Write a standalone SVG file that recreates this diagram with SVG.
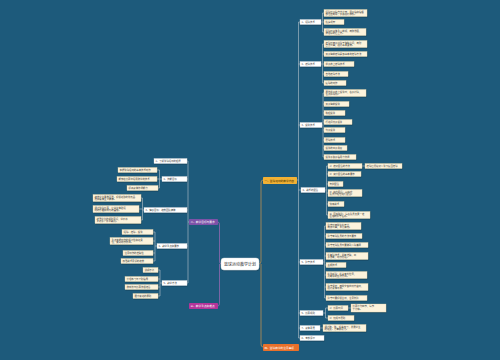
<svg xmlns="http://www.w3.org/2000/svg" width="500" height="360" viewBox="0 0 500 360">
<defs>
<filter id="sh" x="-10%" y="-30%" width="130%" height="180%"><feDropShadow dx="0.4" dy="0.5" stdDeviation="0.3" flood-color="#000" flood-opacity="0.4"/></filter>
</defs>
<style>
text{font-family:"Noto Sans CJK SC","Noto Sans",sans-serif;font-size:2.4px;fill:#3a3a3a}
.lf rect{fill:#fcf3dc;stroke:#e0cfa4;stroke-width:0.3;filter:url(#sh)}
.b2 rect{fill:#ffffff;stroke:#cfd6dc;stroke-width:0.3;filter:url(#sh)}
.mn text{fill:#ffffff;font-size:2.7px}
.mo text{fill:#4a3200;font-size:2.7px}
.ln{fill:none;stroke:#b9c5cd;stroke-width:0.6}
</style>
<rect width="500" height="360" fill="#1d5a7b"/>
<g id="connectors">
<path d="M259,264 Q261,264 261,261 V183 Q261,180 263,180 M261,264 V344 Q261,347 263,347" fill="none" stroke="#d49a4a" stroke-width="0.7"/>
<path d="M221,264 Q219.5,264 219.5,261 V225 Q219.5,222 218,222 M219.5,264 V303 Q219.5,306 218,306" fill="none" stroke="#a46ab8" stroke-width="0.7"/>
<path class="ln" d="M297,180 H298.5 M298.5,22 V338 M298.5,22 H300 M298.5,64 H300 M298.5,125 H300 M298.5,190 H301 M298.5,262 H300 M298.5,313 H300 M298.5,328 H300 M298.5,338 H300"/>
<path class="ln" d="M321,22 H322.5 M322.5,13 V32 M322.5,13 H324 M322.5,22 H324 M322.5,32 H324"/>
<path class="ln" d="M321,64 H322.5 M322.5,44 V83 M322.5,44 H324 M322.5,54 H324 M322.5,64 H324 M322.5,74 H324 M322.5,83 H324"/>
<path class="ln" d="M322,125 H323 M323,93 V157 M323,93 H324 M323,104 H324 M323,113 H324 M323,122 H324 M323,130 H324 M323,140 H324 M323,148 H324 M323,157 H324"/>
<path class="ln" d="M325,190 H326.5 M326.5,166 V215 M326.5,166 H328 M326.5,174 H328 M326.5,184 H328 M326.5,193 H328 M326.5,204 H328 M326.5,215 H328 M362,166 H365"/>
<path class="ln" d="M323,262 H324.5 M324.5,226 V298 M324.5,226 H326 M324.5,236 H326 M324.5,245 H326 M324.5,256 H326 M324.5,265 H326 M324.5,275 H326 M324.5,287 H326 M324.5,298 H326"/>
<path class="ln" d="M323,313 H325.5 M325.5,308 V318 M325.5,308 H328 M325.5,318 H328 M348,308 H351 M320,328 H323"/>
<path class="ln" d="M189,222 H188 M188,161 V283 M188,161 H187 M188,179 H187 M188,210 H187 M188,246 H187 M188,283 H187"/>
<path class="ln" d="M162,179 H159.5 M159.5,170 V188 M159.5,170 H157 M159.5,179 H157 M159.5,188 H158"/>
<path class="ln" d="M144,210 H142.5 M142.5,198 V220 M142.5,198 H141 M142.5,209 H139 M142.5,220 H141"/>
<path class="ln" d="M157,246 H155 M155,232 V261 M155,232 H153 M155,241 H153 M155,253 H153 M155,261 H153"/>
<path class="ln" d="M162,283 H160 M160,270 V296 M160,270 H158 M160,279 H158 M160,287 H158 M160,296 H158"/>
</g>
<g id="center"><rect x="221" y="258" width="38" height="12" rx="3" fill="#ffffff" stroke="#d0d6da" stroke-width="0.4" filter="url(#sh)"/><text x="240" y="265.5" text-anchor="middle" style="font-size:4px;fill:#333">篮球运动教学计划</text></g>
<g id="main1" class="mo"><rect x="263" y="177" width="34" height="7" rx="0.8" fill="#f2b134"/><text x="264.5" y="181.5">一、篮球运动的教学内容</text></g>
<g id="main4" class="mn"><rect x="263" y="344" width="36" height="7" rx="0.8" fill="#e8702a"/><text x="264.5" y="348.5">四、篮球教学的注意事项</text></g>
<g id="main2" class="mn"><rect x="189" y="219" width="29" height="6" rx="0.8" fill="#7d52a8"/><text x="190.5" y="223">二、教学目标与要求</text></g>
<g id="main3" class="mn"><rect x="189" y="303" width="29" height="6" rx="0.8" fill="#b5359a"/><text x="190.5" y="307">三、教学重点和难点</text></g>
<g id="b1" class="b2"><rect x="300" y="19.5" width="21" height="5"/><text x="301.5" y="23">1、运球技术</text></g>
<g id="b2" class="b2"><rect x="300" y="61.5" width="21" height="5"/><text x="301.5" y="65">2、传球技术</text></g>
<g id="b3" class="b2"><rect x="300" y="122.5" width="22" height="5"/><text x="301.5" y="126">3、投篮技术</text></g>
<g id="b4" class="b2"><rect x="301" y="187.5" width="24" height="5"/><text x="302.5" y="191">4、战术的配合</text></g>
<g id="b5" class="b2"><rect x="300" y="259.5" width="23" height="5"/><text x="301.5" y="263">5、防守技术</text></g>
<g id="b6" class="b2"><rect x="300" y="310.5" width="23" height="5"/><text x="301.5" y="314">6、比赛规则</text></g>
<g id="b7" class="b2"><rect x="300" y="325.5" width="20" height="5"/><text x="301.5" y="329">7、身体素质</text></g>
<g id="b8" class="b2"><rect x="300" y="335.5" width="24" height="5"/><text x="301.5" y="339">8、考核评价</text></g>
<g id="r1" class="lf"><rect x="324" y="9.5" width="43" height="7"/><text x="325.5" y="12.6">运球时手指自然分开，用手指和指根</text><text x="325.5" y="15.4">部位控制球，手腕保持放松。</text></g>
<g id="r2" class="lf"><rect x="324" y="19.5" width="20" height="5"/><text x="325.5" y="23">抬头观察</text></g>
<g id="r3" class="lf"><rect x="324" y="28.5" width="42" height="7"/><text x="325.5" y="31.6">运球时身体重心前倾，两膝微屈，</text><text x="325.5" y="34.4">按拍球的后上方。</text></g>
<g id="r4" class="lf"><rect x="324" y="40.5" width="43" height="7"/><text x="325.5" y="43.6">传球时两手持球于胸腹之间，两肘</text><text x="325.5" y="46.4">自然弯曲，保持基本姿势。</text></g>
<g id="r5" class="lf"><rect x="324" y="51.5" width="43" height="5"/><text x="325.5" y="55">双手胸前传球是最基本的传球方法</text></g>
<g id="r6" class="lf"><rect x="324" y="61.5" width="30" height="5"/><text x="325.5" y="65">单手肩上传球技术</text></g>
<g id="r7" class="lf"><rect x="324" y="71.5" width="24" height="5"/><text x="325.5" y="75">击地传球方法</text></g>
<g id="r8" class="lf"><rect x="324" y="80.5" width="22" height="5"/><text x="325.5" y="84">接球的动作</text></g>
<g id="r9" class="lf"><rect x="324" y="89.5" width="42" height="7"/><text x="325.5" y="92.6">原地单手肩上投篮时，右手持球，</text><text x="325.5" y="95.4">左手扶球侧。</text></g>
<g id="r10" class="lf"><rect x="324" y="101.5" width="25" height="5"/><text x="325.5" y="105">双手胸前投篮</text></g>
<g id="r11" class="lf"><rect x="324" y="110.5" width="21" height="5"/><text x="325.5" y="114">跳起投篮</text></g>
<g id="r12" class="lf"><rect x="324" y="119.5" width="28" height="5"/><text x="325.5" y="123">行进间低手投篮</text></g>
<g id="r13" class="lf"><rect x="324" y="127.5" width="21" height="5"/><text x="325.5" y="131">勾手投篮</text></g>
<g id="r14" class="lf"><rect x="324" y="137.5" width="21" height="5"/><text x="325.5" y="141">罚球技术</text></g>
<g id="r15" class="lf"><rect x="324" y="145.5" width="23" height="5"/><text x="325.5" y="149">投篮的出手角度</text></g>
<g id="r16" class="lf"><rect x="324" y="154.5" width="32" height="5"/><text x="325.5" y="158">投篮手腕手指用力协调</text></g>
<g id="r17" class="lf"><rect x="328" y="163.5" width="34" height="5"/><text x="329.5" y="167">1）传切配合的方法</text></g>
<g id="r17a" class="lf"><rect x="365" y="163.5" width="37" height="5"/><text x="366.5" y="167">传球后迅速切入篮下接回传球</text></g>
<g id="r18" class="lf"><rect x="328" y="171.5" width="33" height="5"/><text x="329.5" y="175">2）突分配合的基本要求</text></g>
<g id="r19" class="lf"><rect x="328" y="181.5" width="15" height="5"/><text x="329.5" y="185">掩护配合</text></g>
<g id="r20" class="lf"><rect x="328" y="189.5" width="34" height="7"/><text x="329.5" y="192.6">3）策应配合：以策应</text><text x="329.5" y="195.4">队员为枢纽进行配合。</text></g>
<g id="r21" class="lf"><rect x="328" y="201.5" width="16" height="5"/><text x="329.5" y="205">快攻战术</text></g>
<g id="r22" class="lf"><rect x="328" y="211.5" width="42" height="7"/><text x="329.5" y="214.6">4）区域联防：每名队员负责一定</text><text x="329.5" y="217.4">区域的防守任务。</text></g>
<g id="r23" class="lf"><rect x="326" y="222.5" width="35" height="7"/><text x="327.5" y="225.6">防守时两脚左右开立，</text><text x="327.5" y="228.4">两膝弯曲，重心降低。</text></g>
<g id="r24" class="lf"><rect x="326" y="233.5" width="36" height="5"/><text x="327.5" y="237">防守有球队员的方法与要求</text></g>
<g id="r25" class="lf"><rect x="326" y="242.5" width="42" height="5"/><text x="327.5" y="246">防守无球队员时要做到人球兼顾</text></g>
<g id="r26" class="lf"><rect x="326" y="252.5" width="42" height="7"/><text x="327.5" y="255.6">抢断球技术：判断准确，出</text><text x="327.5" y="258.4">手果断，动作迅速。</text></g>
<g id="r27" class="lf"><rect x="326" y="262.5" width="20" height="5"/><text x="327.5" y="266">盖帽技术</text></g>
<g id="r28" class="lf"><rect x="326" y="271.5" width="41" height="7"/><text x="327.5" y="274.6">抢篮板球：抢占有利位置，</text><text x="327.5" y="277.4">判断球的反弹方向。</text></g>
<g id="r29" class="lf"><rect x="326" y="283.5" width="42" height="7"/><text x="327.5" y="286.6">防守滑步：两脚交替向侧方移动，</text><text x="327.5" y="289.4">保持身体平衡。</text></g>
<g id="r30" class="lf"><rect x="326" y="295.5" width="41" height="5"/><text x="327.5" y="299">防守时要积极主动，注意协防</text></g>
<g id="r31" class="lf"><rect x="328" y="305.5" width="20" height="5"/><text x="329.5" y="309">1）比赛时间</text></g>
<g id="r31a" class="lf"><rect x="351" y="304" width="35" height="8"/><text x="352.5" y="307.4">比赛分为四节，每节</text><text x="352.5" y="310.4">十分钟。</text></g>
<g id="r32" class="lf"><rect x="328" y="315.5" width="26" height="5"/><text x="329.5" y="319">2）犯规与罚则</text></g>
<g id="r33" class="lf"><rect x="323" y="324.5" width="43" height="7"/><text x="324.5" y="327.6">通过跑、跳、投等练习，发展学生</text><text x="324.5" y="330.4">的速度、力量和耐力。</text></g>
<g id="l1" class="b2"><rect x="154" y="158.5" width="33" height="5"/><text x="155.5" y="162">1、了解篮球运动的起源</text></g>
<g id="l2" class="b2"><rect x="162" y="176.5" width="25" height="5"/><text x="163.5" y="180">2、技能目标</text></g>
<g id="l3" class="b2"><rect x="144" y="207.5" width="43" height="5"/><text x="145.5" y="211">3、情感目标：培养团队精神</text></g>
<g id="l4" class="b2"><rect x="157" y="243.5" width="30" height="5"/><text x="158.5" y="247">4、教学重点和要求</text></g>
<g id="l5" class="b2"><rect x="162" y="280.5" width="25" height="5"/><text x="163.5" y="284">5、教学方法</text></g>
<g id="p1" class="lf"><rect x="118" y="167.5" width="39" height="5"/><text x="119.5" y="171">掌握篮球运动的基本技术动作</text></g>
<g id="p2" class="lf"><rect x="117" y="176.5" width="40" height="5"/><text x="118.5" y="180">能够在比赛中运用所学的技术</text></g>
<g id="p3" class="lf"><rect x="127" y="185.5" width="31" height="5"/><text x="128.5" y="189">提高身体协调能力</text></g>
<g id="p4" class="lf"><rect x="93" y="194.5" width="48" height="7"/><text x="94.5" y="197.6">培养学生勇敢顽强、积极进取的优良品</text><text x="94.5" y="200.4">质和集体主义精神。</text></g>
<g id="p5" class="lf"><rect x="93" y="205.5" width="46" height="7"/><text x="94.5" y="208.6">通过篮球比赛，让学生体验运</text><text x="94.5" y="211.4">动的乐趣和成功的喜悦。</text></g>
<g id="p6" class="lf"><rect x="95" y="216.5" width="46" height="7"/><text x="96.5" y="219.6">增强学生的规则意识，学会尊</text><text x="96.5" y="222.4">重对手、尊重裁判。</text></g>
<g id="p7" class="lf"><rect x="122" y="229.5" width="31" height="5"/><text x="123.5" y="233">运球、传球、投篮</text></g>
<g id="p8" class="lf"><rect x="110" y="237.5" width="43" height="7"/><text x="111.5" y="240.6">重点掌握动作的规范性和连贯</text><text x="111.5" y="243.4">性，做到动作协调。</text></g>
<g id="p9" class="lf"><rect x="123" y="250.5" width="30" height="5"/><text x="124.5" y="254">注意动作的准确性</text></g>
<g id="p10" class="lf"><rect x="121" y="258.5" width="32" height="5"/><text x="122.5" y="262">加强战术意识的培养</text></g>
<g id="p11" class="lf"><rect x="143" y="267.5" width="15" height="5"/><text x="144.5" y="271">讲解示范</text></g>
<g id="p12" class="lf"><rect x="125" y="276.5" width="33" height="5"/><text x="126.5" y="280">分组练习与个别指导</text></g>
<g id="p13" class="lf"><rect x="125" y="284.5" width="33" height="5"/><text x="126.5" y="288">游戏法与比赛法相结合</text></g>
<g id="p14" class="lf"><rect x="133" y="293.5" width="25" height="5"/><text x="134.5" y="297">循序渐进的原则</text></g>
</svg>
